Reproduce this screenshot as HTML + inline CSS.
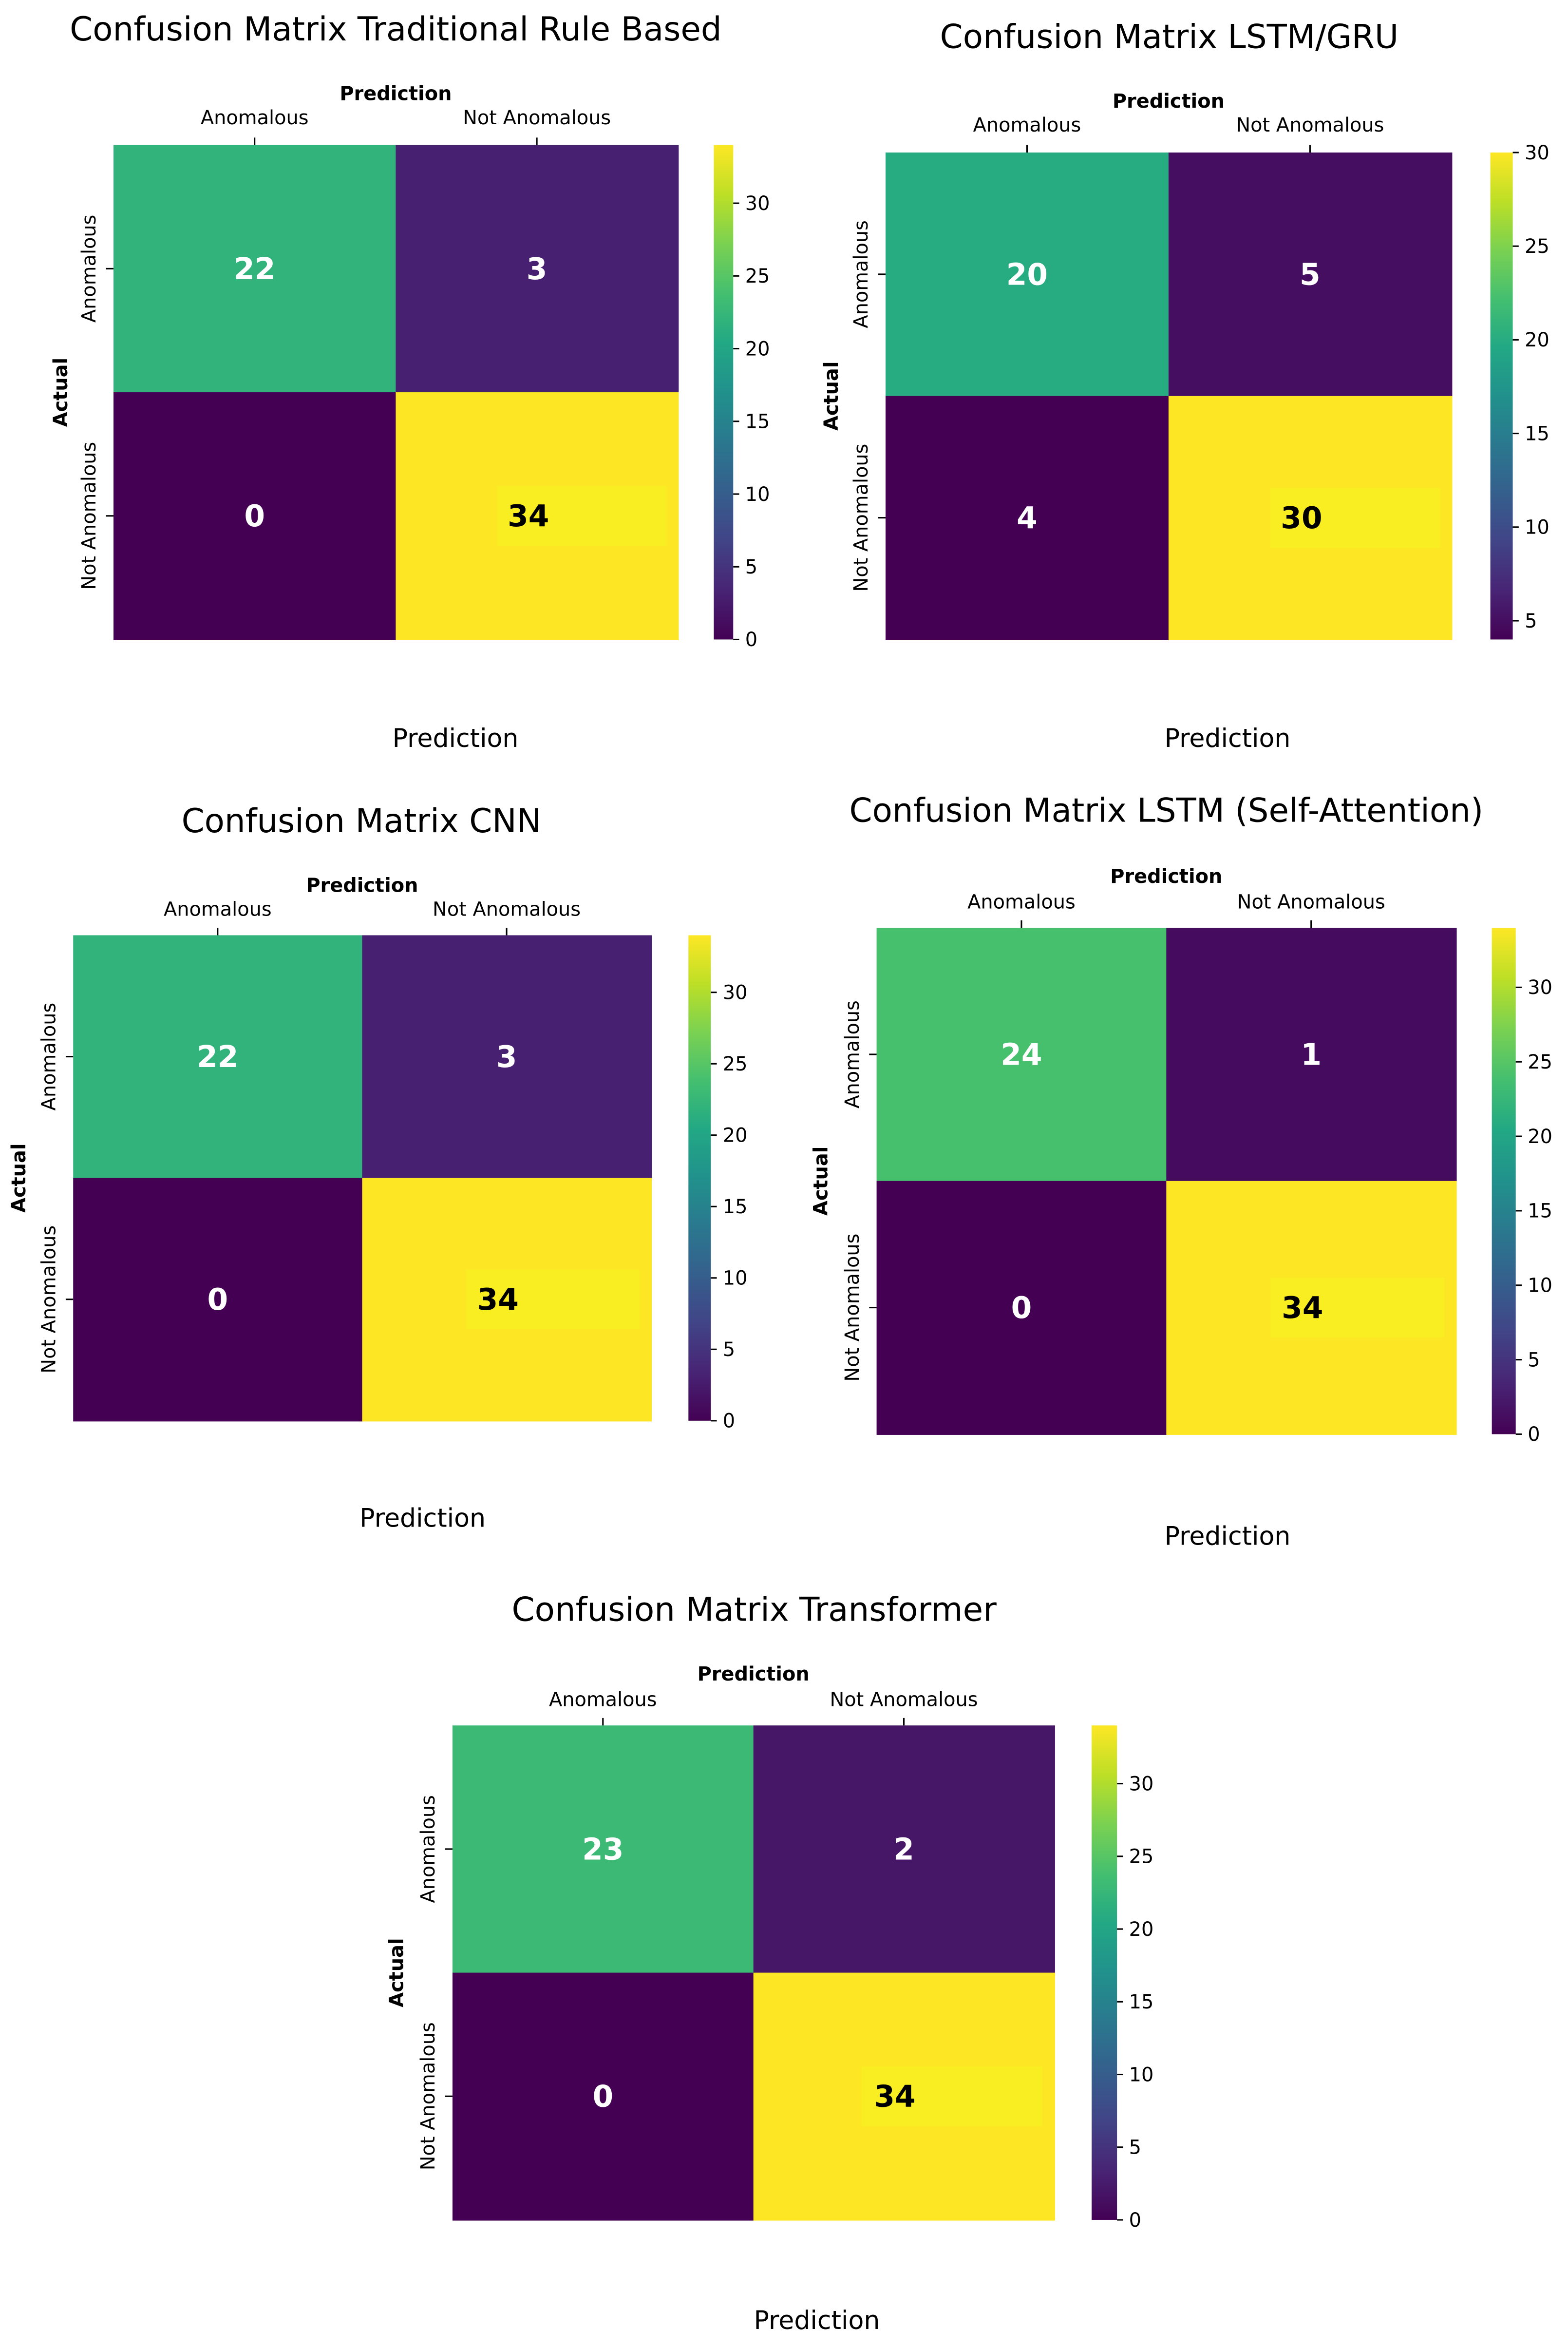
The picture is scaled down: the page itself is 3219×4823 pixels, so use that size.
<!DOCTYPE html>
<html><head><meta charset="utf-8"><style>
html,body{margin:0;padding:0;background:#fff;}
svg{display:block;}
text{font-family:"DejaVu Sans","Liberation Sans",sans-serif;}
</style></head><body>
<svg id="chart" width="3219" height="4823" viewBox="0 0 1050 1573" xmlns="http://www.w3.org/2000/svg">
<defs>
<linearGradient id="viridis" x1="0" y1="1" x2="0" y2="0">
<stop offset="0" stop-color="#440154"/><stop offset="0.1" stop-color="#482475"/><stop offset="0.2" stop-color="#414487"/>
<stop offset="0.3" stop-color="#355f8d"/><stop offset="0.4" stop-color="#2a788e"/><stop offset="0.5" stop-color="#21918c"/>
<stop offset="0.6" stop-color="#22a884"/><stop offset="0.7" stop-color="#44bf70"/><stop offset="0.8" stop-color="#7ad151"/>
<stop offset="0.9" stop-color="#bddf26"/><stop offset="1" stop-color="#fde725"/>
</linearGradient>
</defs>
</svg>
<script>
const titles = ["Confusion Matrix Traditional Rule Based","Confusion Matrix LSTM/GRU","Confusion Matrix CNN","Confusion Matrix LSTM (Self-Attention)","Confusion Matrix Transformer"];
const classLabels = ["Anomalous","Not Anomalous"];
const values1 = [[22,3],[0,34]];
const values2 = [[20,5],[4,30]];
const values3 = [[22,3],[0,34]];
const values4 = [[24,1],[0,34]];
const values5 = [[23,2],[0,34]];
const allValues = [values1,values2,values3,values4,values5];
const ticks1 = [0,5,10,15,20,25,30];
const ticks2 = [5,10,15,20,25,30];
const allTicks = [ticks1,ticks2,ticks1,ticks1,ticks1];

// layout geometry (pixel positions in viewBox units)
const layout = [
 {x0:76,x1:454,y0:97,y1:428,cb0:478,cb1:491,ty:20,tx:265,py:62,ly:78,ax:40,bx:305,by:494},
 {x0:593,x1:972,y0:102,y1:428,cb0:998,cb1:1013,ty:25,tx:783,py:67,ly:83,ax:556,bx:822,by:494},
 {x0:49,x1:436,y0:626,y1:951,cb0:461,cb1:476,ty:550,tx:242,py:592,ly:608,ax:12,bx:283,by:1016},
 {x0:587,x1:975,y0:621,y1:960,cb0:999,cb1:1015,ty:543,tx:781,py:586,ly:603,ax:549,bx:822,by:1028},
 {x0:303,x1:706,y0:1155,y1:1486,cb0:731,cb1:748,ty:1078,tx:505,py:1120,ly:1137,ax:265,bx:547,by:1553}
];
const vir = ["#440154","#482475","#414487","#355f8d","#2a788e","#21918c","#22a884","#44bf70","#7ad151","#bddf26","#fde725"];
function hex(c){return [1,3,5].map(i=>parseInt(c.substr(i,2),16));}
function viridis(t){t=Math.max(0,Math.min(1,t));const f=t*10,i=Math.min(9,Math.floor(f)),r=f-i;
 const a=hex(vir[i]),b=hex(vir[i+1]);return "rgb("+a.map((v,k)=>Math.round(v+(b[k]-v)*r)).join(",")+")";}
const svg=document.getElementById('chart');
const NS="http://www.w3.org/2000/svg";
function mk(tag,attrs,parent,txt){const e=document.createElementNS(NS,tag);for(const k in attrs)e.setAttribute(k,attrs[k]);if(txt!==undefined)e.textContent=txt;(parent||svg).appendChild(e);return e;}

allValues.forEach((vals,p)=>{
 const L=layout[p];
 const g=mk('g',{});
 
 
 const flat=vals.flat();const vmin=Math.min(...flat),vmax=Math.max(...flat);
 const cw=(L.x1-L.x0)/2,ch=(L.y1-L.y0)/2;
 const xs=i=>L.x0+i*cw, ys=j=>L.y0+j*ch;
 const t=mk('text',{x:L.tx,y:L.ty+7,'font-size':22,'text-anchor':'middle',fill:'#000'},g,titles[p]);
 
 
 const pt=mk('text',{x:(L.x0+L.x1)/2,y:L.py+5,'font-size':13,'font-weight':'bold','text-anchor':'middle'},g,'Prediction');
 
 
 vals.forEach((row,j)=>row.forEach((v,i)=>{
  const c=mk('rect',{x:xs(i),y:ys(j),width:cw+0.5,height:ch+0.5,fill:viridis((v-vmin)/(vmax-vmin))},g);
  
  
 }));
 vals.forEach((row,j)=>row.forEach((v,i)=>{
  const dark=(v===vmax);
  const cx=xs(i)+cw/2, cy=ys(j)+ch/2;
  let tx=cx;
  if(dark){
   const b=mk('rect',{x:cx-cw*0.14,y:cy-20,width:cw*0.6,height:40,fill:'#f8ee22'},g);
   
   
   tx=cx-cw*0.03;
  }
  const vt=mk('text',{x:tx,y:cy+7,'font-size':20,'font-weight':'bold','text-anchor':'middle',fill:dark?'#000':'#fff'},g,String(v));
  
  
 }));
 classLabels.forEach((lab,i)=>{
  const x=xs(i)+cw/2;
  mk('line',{x1:x,x2:x,y1:L.y0-5,y2:L.y0,stroke:'#000','stroke-width':1},g);
  const xl=mk('text',{x:x,y:L.ly+5,'font-size':13,'text-anchor':'middle'},g,lab);
  
  
  const y=ys(i)+ch/2;
  mk('line',{x1:L.x0-5,x2:L.x0,y1:y,y2:y,stroke:'#000','stroke-width':1},g);
  const yl=mk('text',{x:0,y:0,'font-size':13,'text-anchor':'middle',transform:`translate(${L.x0-12},${y}) rotate(-90)`},g,lab);
  
  
 });
 const at=mk('text',{x:0,y:0,'font-size':13,'font-weight':'bold','text-anchor':'middle',transform:`translate(${L.ax+5},${(L.y0+L.y1)/2}) rotate(-90)`},g,'Actual');
 
 
 const bt=mk('text',{x:L.bx,y:L.by+6,'font-size':17,'text-anchor':'middle'},g,'Prediction');
 
 
 const cb=mk('rect',{x:L.cb0,y:L.y0,width:L.cb1-L.cb0,height:L.y1-L.y0,fill:'url(#viridis)'},g);
 
 
 const cy=v=>L.y1-(v-vmin)/(vmax-vmin)*(L.y1-L.y0);
 allTicks[p].forEach(v=>{
  const y=cy(v);
  mk('line',{x1:L.cb1,x2:L.cb1+4,y1:y,y2:y,stroke:'#000','stroke-width':1},g);
  const tl=mk('text',{x:L.cb1+8,y:y+4.5,'font-size':13},g,String(v));
  
  
 });
});
</script>
</body></html>
